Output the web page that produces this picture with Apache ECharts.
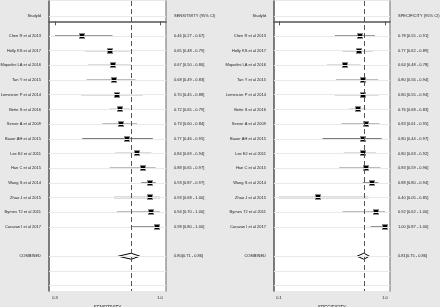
<!DOCTYPE html>
<html>
<head>
<meta charset="utf-8">
<script src="https://cdn.jsdelivr.net/npm/echarts@6/dist/echarts.min.js"></script>
<style>
  html, body { margin: 0; padding: 0; background: #e8e8e8; }
  #chart { width: 440px; height: 307px; }
</style>
</head>
<body>
<div id="chart"></div>
<script>
// forest plot - sensitivity / specificity per study
var studies = ['Chen R et al 2013', 'Holly KS et al 2017', 'Miquelini LA et al 2016', 'Tan Y et al 2015',
    'Lemercier P et al 2014', 'Bette S et al 2016', 'Server A et al 2009', 'Bauer AH et al 2015',
    'Lee EJ et al 2011', 'Han C et al 2015', 'Wang S et al 2014', 'Zhao J et al 2015',
    'Byrnes TJ et al 2011', 'Caravan I et al 2017'];

var sensEst = [0.46, 0.65, 0.67, 0.68, 0.70, 0.72, 0.73, 0.77, 0.84, 0.88, 0.93, 0.93, 0.94, 0.98];
var sensLo  = [0.27, 0.48, 0.50, 0.49, 0.45, 0.65, 0.60, 0.46, 0.69, 0.65, 0.87, 0.68, 0.70, 0.80];
var sensHi  = [0.67, 0.79, 0.80, 0.83, 0.88, 0.79, 0.84, 0.95, 0.94, 0.97, 0.97, 1.00, 1.00, 1.00];

var specEst = [0.78, 0.77, 0.64, 0.80, 0.80, 0.76, 0.83, 0.80, 0.80, 0.83, 0.88, 0.40, 0.92, 1.00];
var specLo  = [0.55, 0.62, 0.48, 0.56, 0.55, 0.68, 0.61, 0.44, 0.63, 0.59, 0.80, 0.05, 0.62, 0.87];
var specHi  = [0.91, 0.89, 0.78, 0.94, 0.94, 0.83, 0.95, 0.97, 0.92, 0.96, 0.94, 0.85, 1.00, 1.00];

var sensCombined = [0.80, 0.71, 0.86];
var specCombined = [0.81, 0.75, 0.86];

var sensTicks = [0.27, 1.0];
var specTicks = [0.05, 1.0];

// row positions on the y scale
var headerRow = -0.36;
var combinedRow = 16;
var gridRows = [headerRow, 1, 2, 3, 4, 5, 6, 7, 8, 9, 10, 11, 12, 13, 14, 16, 17, 18];

var FONT = '"Liberation Sans", Arial, sans-serif';
var chart = echarts.init(document.getElementById('chart'));

function fmt(v) { return v.toFixed(2); }

function rowItems(est, lo, hi) {
    return est.map(function (e, i) { return [e, lo[i], hi[i], i + 1]; });
}

function labelRows() {
    var r = [headerRow];
    for (var i = 1; i <= studies.length; i++) r.push(i);
    r.push(combinedRow);
    return r;
}

function leftText(v) {
    if (v < 0) return 'StudyId';
    if (Math.round(v) === combinedRow) return 'COMBINED';
    return studies[Math.round(v) - 1] || '';
}

function rightTextFn(est, lo, hi, comb, head) {
    return function (v) {
        if (v < 0) return head;
        var k = Math.round(v);
        if (k === combinedRow) return fmt(comb[0]) + '[' + fmt(comb[1]) + ' - ' + fmt(comb[2]) + ']';
        var i = k - 1;
        return fmt(est[i]) + ' [' + fmt(lo[i]) + ' - ' + fmt(hi[i]) + ']';
    };
}

function renderStudy(params, api) {
    var a = api.coord([api.value(1), api.value(3)]);
    var b = api.coord([api.value(2), api.value(3)]);
    var c = api.coord([api.value(0), api.value(3)]);
    var cx = Math.round(c[0]), cy = Math.round(c[1]);
    return {
        type: 'group',
        children: [
            { type: 'line', shape: { x1: a[0], y1: a[1], x2: b[0], y2: b[1] },
              style: { stroke: '#7a7a7a', lineWidth: 1.3 } },
            { type: 'rect', shape: { x: cx - 3, y: cy - 3, width: 6, height: 6 },
              style: { fill: '#8a8a8a' } },
            { type: 'rect', shape: { x: cx - 2, y: cy - 2, width: 4, height: 4 },
              style: { fill: '#000' } }
        ]
    };
}

function renderDiamond(params, api) {
    var y = api.value(3);
    var a = api.coord([api.value(1), y]);
    var b = api.coord([api.value(2), y]);
    var c = api.coord([api.value(0), y]);
    return {
        type: 'polygon',
        shape: { points: [[a[0], a[1]], [c[0], c[1] - 3], [b[0], b[1]], [c[0], c[1] + 3]] },
        style: { fill: '#fff', stroke: '#000', lineWidth: 1 }
    };
}

var rows = labelRows();
var yMin = -1.384, yMax = 18.37;

function xAxisFor(idx, min, max, ticks, name) {
    return {
        type: 'value', gridIndex: idx, min: min, max: max,
        name: name, nameLocation: 'middle', nameGap: 11,
        nameTextStyle: { fontSize: 4.5, color: '#222', fontFamily: FONT },
        axisLine: { show: true, lineStyle: { color: '#555', width: 1.5 } },
        axisTick: { show: true, length: 4, customValues: ticks, lineStyle: { color: '#555', width: 1 } },
        axisLabel: { customValues: ticks, fontSize: 4, margin: 5, color: '#222', fontFamily: FONT,
            formatter: function (v) { return v.toFixed(1); } },
        splitLine: { show: false }
    };
}

function yAxesFor(idx, rightFn) {
    return [{
        type: 'value', gridIndex: idx, inverse: true, min: yMin, max: yMax, position: 'left',
        axisLine: { show: true, onZero: false, lineStyle: { color: '#555', width: 1.5 } },
        axisTick: { show: false },
        axisLabel: { customValues: rows, fontSize: 4, margin: 8, color: '#222', fontFamily: FONT,
            formatter: leftText },
        splitLine: { show: false }
    }, {
        type: 'value', gridIndex: idx, inverse: true, min: yMin, max: yMax, position: 'right',
        axisLine: { show: true, onZero: false, lineStyle: { color: '#999', width: 1.5 } },
        axisTick: { show: false },
        axisLabel: { customValues: rows, fontSize: 4, margin: 8, color: '#222', fontFamily: FONT,
            formatter: rightFn },
        splitLine: { show: false }
    }];
}

function panelSeries(idx, est, lo, hi, comb) {
    var gridLines = gridRows.map(function (r) { return { yAxis: r }; });
    return [{
        type: 'line', xAxisIndex: idx, yAxisIndex: idx * 2, data: [], z: 1, silent: true,
        markLine: {
            silent: true, symbol: ['none', 'none'], label: { show: false }, animation: false,
            lineStyle: { color: '#e9e9e9', width: 1, type: 'solid' },
            data: gridLines
        }
    }, {
        type: 'custom', xAxisIndex: idx, yAxisIndex: idx * 2, z: 3,
        renderItem: renderStudy, data: rowItems(est, lo, hi),
        markLine: {
            silent: true, symbol: ['none', 'none'], label: { show: false }, animation: false,
            lineStyle: { color: '#555', width: 1, type: [5, 3] },
            data: [{ xAxis: comb[0] }]
        }
    }, {
        type: 'custom', xAxisIndex: idx, yAxisIndex: idx * 2, z: 4,
        renderItem: renderDiamond, data: [[comb[0], comb[1], comb[2], combinedRow]]
    }];
}

var option = {
    backgroundColor: '#e8e8e8',
    animation: false,
    grid: [
        { left: 49, top: 1, width: 117, bottom: 16, show: true, backgroundColor: '#fff', borderWidth: 0,
          outerBoundsMode: 'none', containLabel: false },
        { left: 274, top: 1, width: 116, bottom: 16, show: true, backgroundColor: '#fff', borderWidth: 0,
          outerBoundsMode: 'none', containLabel: false }
    ],
    xAxis: [
        xAxisFor(0, 0.2283, 1.0417, sensTicks, 'SENSITIVITY'),
        xAxisFor(1, 0.0052, 1.0448, specTicks, 'SPECIFICITY')
    ],
    yAxis: yAxesFor(0, rightTextFn(sensEst, sensLo, sensHi, sensCombined, 'SENSITIVITY (95% CI)'))
        .concat(yAxesFor(1, rightTextFn(specEst, specLo, specHi, specCombined, 'SPECIFICITY (95% CI)'))),
    series: panelSeries(0, sensEst, sensLo, sensHi, sensCombined)
        .concat(panelSeries(1, specEst, specLo, specHi, specCombined))
};

chart.setOption(option);
window.addEventListener('resize', function () {
    chart.resize();
});
</script>
</body>
</html>
